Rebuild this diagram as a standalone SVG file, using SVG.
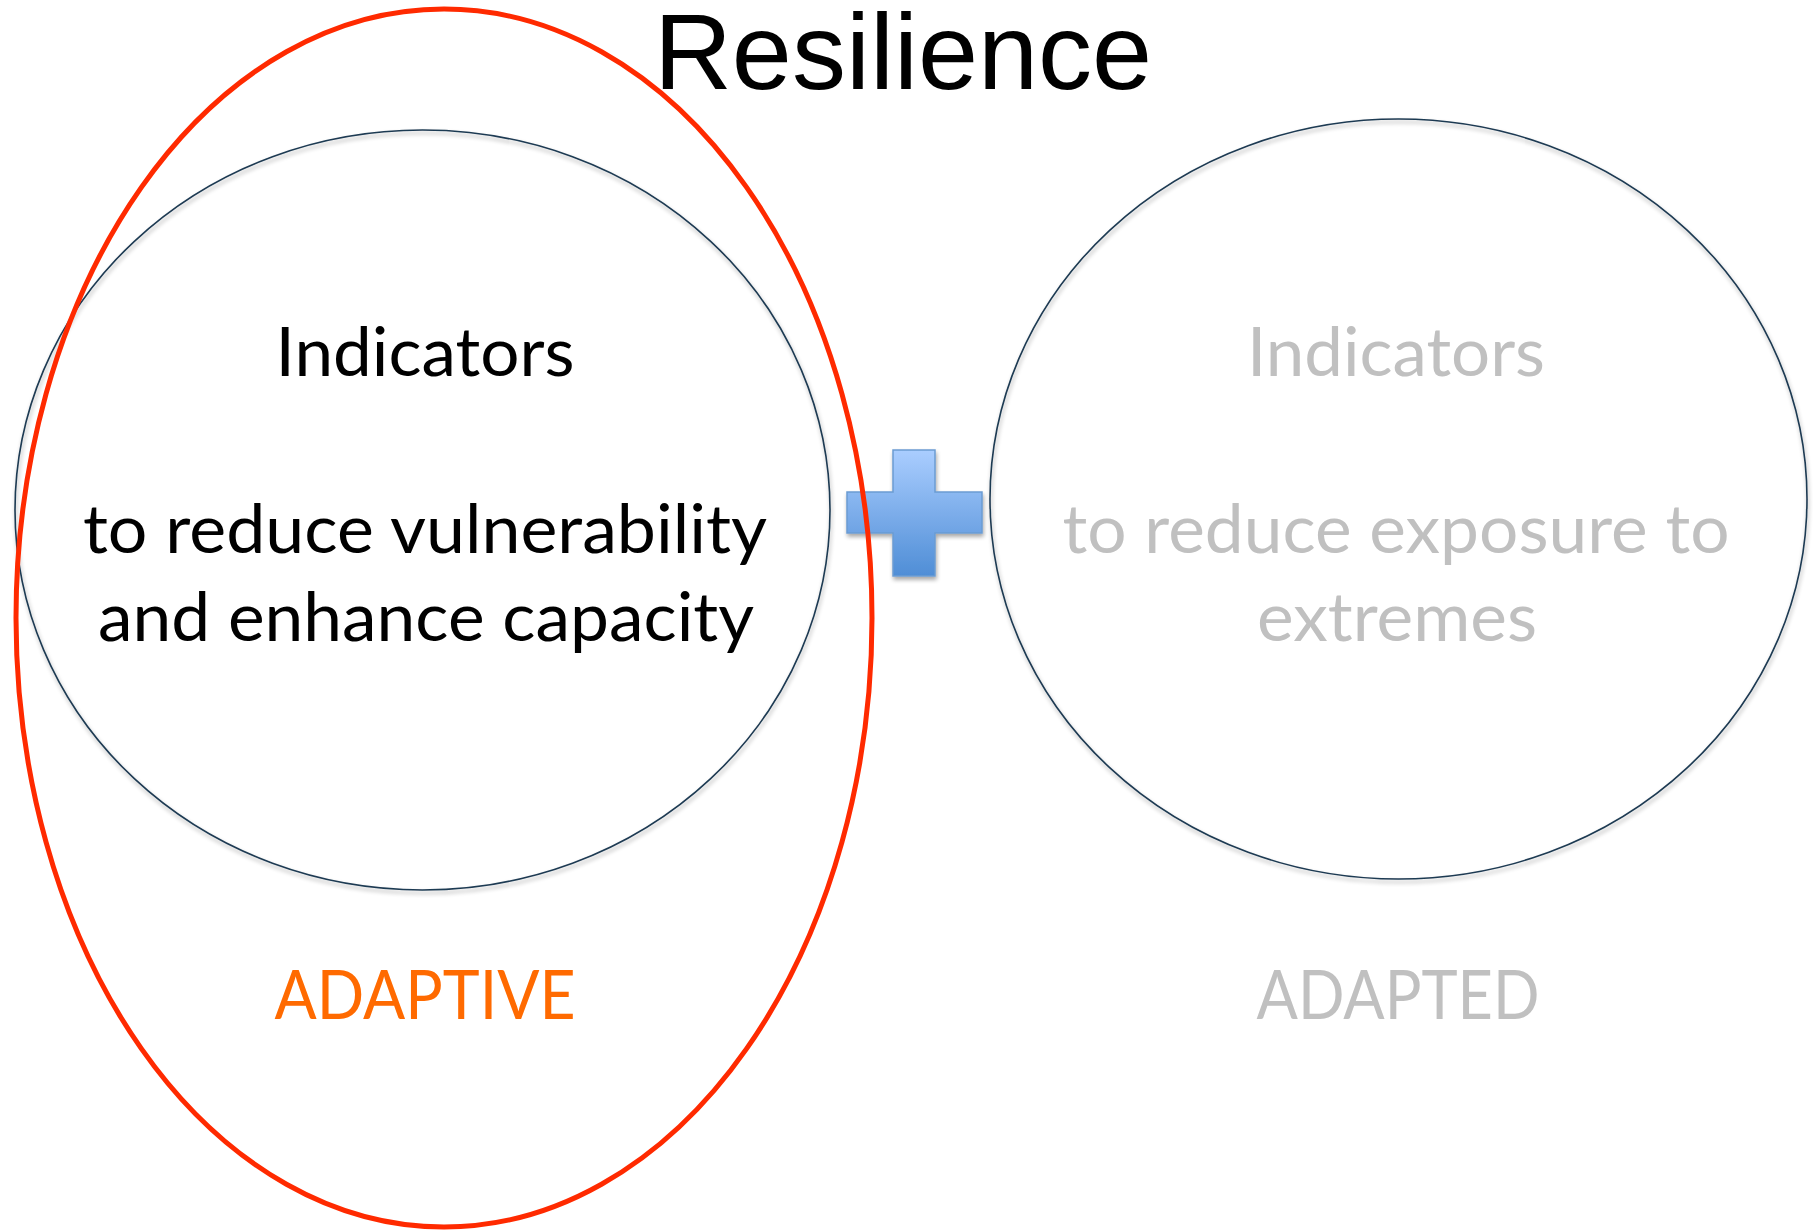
<svg xmlns="http://www.w3.org/2000/svg" width="1816" height="1231" viewBox="0 0 1816 1231">
<style>
.t{font-family:Lato,"Open Sans","Liberation Sans",sans-serif;font-size:68px;text-anchor:middle}
.dark{fill:#000}
.grey{fill:#c0c0c0}
.orange{fill:#ff6a00}
.ell{fill:none;stroke:#1e3a52;stroke-width:1.6}
.title{font-family:"Liberation Sans",Arial,sans-serif;font-size:108px;text-anchor:middle;fill:#000}
</style>
<defs>
<linearGradient id="plusGrad" x1="0" y1="0" x2="0" y2="1">
<stop offset="0" stop-color="#aacdff"/>
<stop offset="1" stop-color="#4f8ed6"/>
</linearGradient>
<filter id="sh" x="-10%" y="-10%" width="130%" height="130%">
<feGaussianBlur in="SourceAlpha" stdDeviation="2"/>
<feOffset dx="1" dy="3"/>
<feComponentTransfer><feFuncA type="linear" slope="0.35"/></feComponentTransfer>
<feMerge><feMergeNode/><feMergeNode in="SourceGraphic"/></feMerge>
</filter>
</defs>
<rect width="1816" height="1231" fill="#fff"/>
<text class="title" x="903" y="89">Resilience</text>

<g id="node-adaptive">
<ellipse class="ell" cx="422.5" cy="510" rx="407.5" ry="380" filter="url(#sh)"/>
<text class="t dark" x="425" y="376" textLength="299" lengthAdjust="spacingAndGlyphs">Indicators</text>
<text class="t dark" x="425" y="553" textLength="684" lengthAdjust="spacingAndGlyphs">to reduce vulnerability</text>
<text class="t dark" x="426" y="641" textLength="656" lengthAdjust="spacingAndGlyphs">and enhance capacity</text>
<text class="t orange" x="425" y="1019" textLength="301" lengthAdjust="spacingAndGlyphs">ADAPTIVE</text>
</g>

<g id="node-adapted">
<ellipse class="ell" cx="1398.5" cy="499" rx="408.5" ry="380" filter="url(#sh)"/>
<text class="t grey" x="1396" y="376" textLength="298" lengthAdjust="spacingAndGlyphs">Indicators</text>
<text class="t grey" x="1396" y="553" textLength="667" lengthAdjust="spacingAndGlyphs">to reduce exposure to</text>
<text class="t grey" x="1397" y="641" textLength="280" lengthAdjust="spacingAndGlyphs">extremes</text>
<text class="t grey" x="1398" y="1019" textLength="283" lengthAdjust="spacingAndGlyphs">ADAPTED</text>
</g>

<g id="node-plus">
<path d="M893,450 H935 V492 H982 V533 H935 V576 H893 V533 H847 V492 H893 Z" fill="url(#plusGrad)" stroke="#6b9cd2" stroke-width="1.5" filter="url(#sh)"/>
</g>

<g id="connectors">
<ellipse id="highlight" cx="444" cy="618" rx="428" ry="609" fill="none" stroke="#ff2a00" stroke-width="5"/>
</g>
</svg>
